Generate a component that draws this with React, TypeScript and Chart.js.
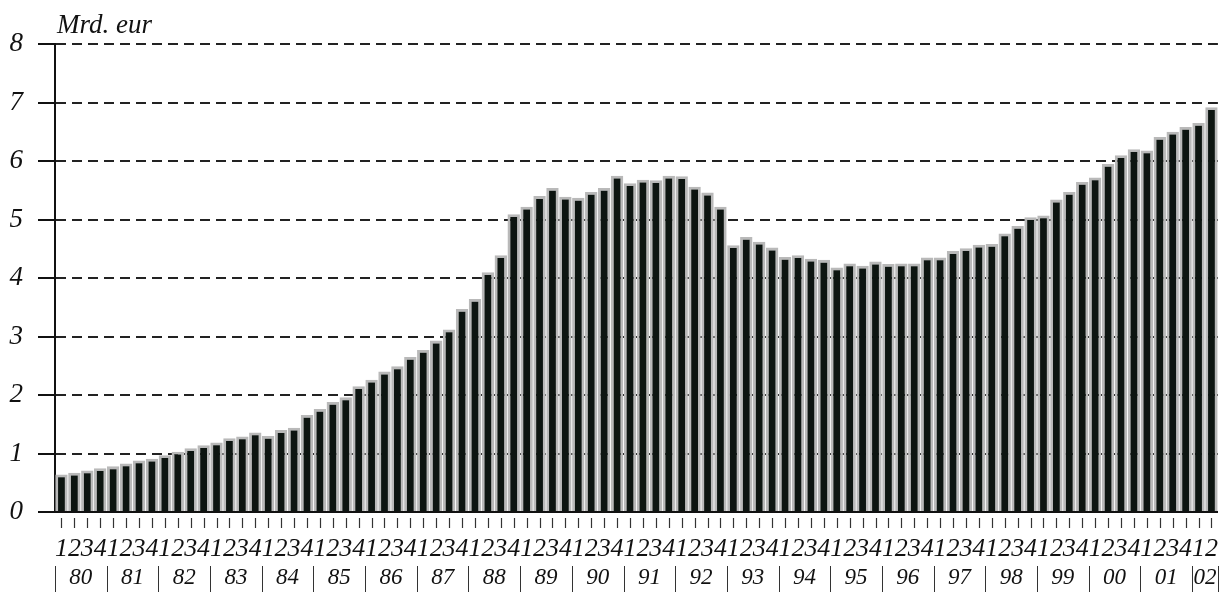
import React, { useEffect, useRef } from 'react';
import { Chart, registerables } from 'chart.js';

Chart.register(...registerables);

// Year labels (two-digit), one group of four quarters per year (2002: two quarters)
const years = ['80', '81', '82', '83', '84', '85', '86', '87', '88', '89', '90', '91', '92', '93', '94', '95', '96', '97', '98', '99', '00', '01', '02'];
const quarterNames = ['1', '2', '3', '4'];

// Quarterly values, Mrd. eur, 1980 Q1 .. 2002 Q2
const values = [
  0.64, 0.67, 0.71, 0.75, // 80
  0.78, 0.83, 0.88, 0.91, // 81
  0.97, 1.03, 1.09, 1.14, // 82
  1.19, 1.26, 1.29, 1.36, // 83
  1.30, 1.40, 1.44, 1.66, // 84
  1.76, 1.88, 1.96, 2.15, // 85
  2.26, 2.40, 2.49, 2.65, // 86
  2.77, 2.93, 3.12, 3.47, // 87
  3.64, 4.10, 4.39, 5.09, // 88
  5.22, 5.40, 5.54, 5.39, // 89
  5.37, 5.47, 5.54, 5.75, // 90
  5.62, 5.68, 5.67, 5.75, // 91
  5.74, 5.56, 5.46, 5.22, // 92
  4.56, 4.70, 4.62, 4.52, // 93
  4.36, 4.39, 4.33, 4.31, // 94
  4.18, 4.25, 4.21, 4.28, // 95
  4.24, 4.25, 4.25, 4.35, // 96
  4.35, 4.46, 4.51, 4.57, // 97
  4.58, 4.76, 4.89, 5.04, // 98
  5.07, 5.34, 5.47, 5.64, // 99
  5.72, 5.95, 6.10, 6.20, // 00
  6.18, 6.41, 6.50, 6.58, // 01
  6.65, 6.92,             // 02
];

const unitLabel = 'Mrd. eur';
const yMin = 0;
const yMax = 8;
const yStep = 1;

const categories = values.map((_, i) => quarterNames[i % 4]);

const SERIF = "'Liberation Serif', 'DejaVu Serif', serif";
const INK = '#111111';
const W = 1232;
const H = 594;

export default function App() {
  const ref = useRef<HTMLCanvasElement | null>(null);

  useEffect(() => {
    document.body.style.margin = '0';
    document.body.style.overflow = 'hidden';
    const canvas = ref.current;
    if (!canvas) return;

    const decor = {
      id: 'decor',
      afterDraw(chart: any) {
        const { ctx, chartArea } = chart;
        const x = chart.scales.x;
        ctx.save();
        // unit label
        ctx.font = `italic 27px ${SERIF}`;
        ctx.fillStyle = INK;
        ctx.textAlign = 'left';
        ctx.textBaseline = 'alphabetic';
        ctx.fillText(unitLabel, 57, 33);

        // small tick marks under each bar
        ctx.strokeStyle = '#333';
        ctx.lineWidth = 1.2;
        for (let i = 0; i < values.length; i++) {
          const px = Math.round(x.getPixelForValue(i)) + 0.5;
          ctx.beginPath();
          ctx.moveTo(px, chartArea.bottom + 6);
          ctx.lineTo(px, chartArea.bottom + 16);
          ctx.stroke();
        }

        // year labels with separators
        const half = (x.getPixelForValue(1) - x.getPixelForValue(0)) / 2;
        ctx.font = `italic 23px ${SERIF}`;
        ctx.textAlign = 'center';
        ctx.textBaseline = 'middle';
        ctx.lineWidth = 1;
        years.forEach((yr, k) => {
          const first = k * 4;
          const last = Math.min(first + 3, values.length - 1);
          const left = x.getPixelForValue(first) - half;
          const right = x.getPixelForValue(last) + half;
          ctx.fillText(yr, (left + right) / 2, 578);
          ctx.beginPath();
          ctx.moveTo(Math.round(left) + 0.5, 566);
          ctx.lineTo(Math.round(left) + 0.5, 592);
          ctx.stroke();
          if (k === years.length - 1) {
            ctx.beginPath();
            ctx.moveTo(Math.round(right) + 0.5, 566);
            ctx.lineTo(Math.round(right) + 0.5, 592);
            ctx.stroke();
          }
        });
        ctx.restore();
      },
    };

    const chart = new Chart(canvas, {
      type: 'bar',
      data: {
        labels: categories,
        datasets: [
          {
            data: values,
            backgroundColor: '#0d1511',
            borderColor: '#b9b9b9',
            borderWidth: 2.8,
            barPercentage: 0.96,
            categoryPercentage: 1.0,
          },
        ],
      },
      options: {
        animation: false,
        responsive: false,
        devicePixelRatio: 1,
        layout: { padding: { top: 44, right: 8, left: 0, bottom: 0 } },
        plugins: {
          legend: { display: false },
          tooltip: { enabled: false },
          title: { display: false },
        },
        scales: {
          x: {
            offset: true,
            grid: { display: false },
            border: { display: true, color: '#111', width: 2 },
            ticks: {
              autoSkip: false,
              maxRotation: 0,
              minRotation: 0,
              padding: 14,
              color: INK,
              font: { family: SERIF, size: 26, style: 'italic' },
            },
            afterFit: (scale: any) => {
              scale.height = 82;
            },
          },
          y: {
            min: yMin,
            max: yMax,
            ticks: {
              stepSize: yStep,
              padding: 15,
              color: INK,
              font: { family: SERIF, size: 27, style: 'italic' },
              callback: (v: any) => String(v),
            },
            grid: {
              color: '#222',
              lineWidth: 2,
              tickLength: 17,
              tickColor: '#111',
              tickWidth: 2,
            },
            border: { display: true, color: '#111', width: 2, dash: [10, 6] },
            afterFit: (scale: any) => {
              scale.width = 55;
            },
          },
        },
      },
      plugins: [decor],
    });

    return () => chart.destroy();
  }, []);

  return (
    <div style={{ width: W, height: H, position: 'relative' }}>
      <canvas ref={ref} width={W} height={H} style={{ display: 'block', width: W, height: H }} />
    </div>
  );
}
